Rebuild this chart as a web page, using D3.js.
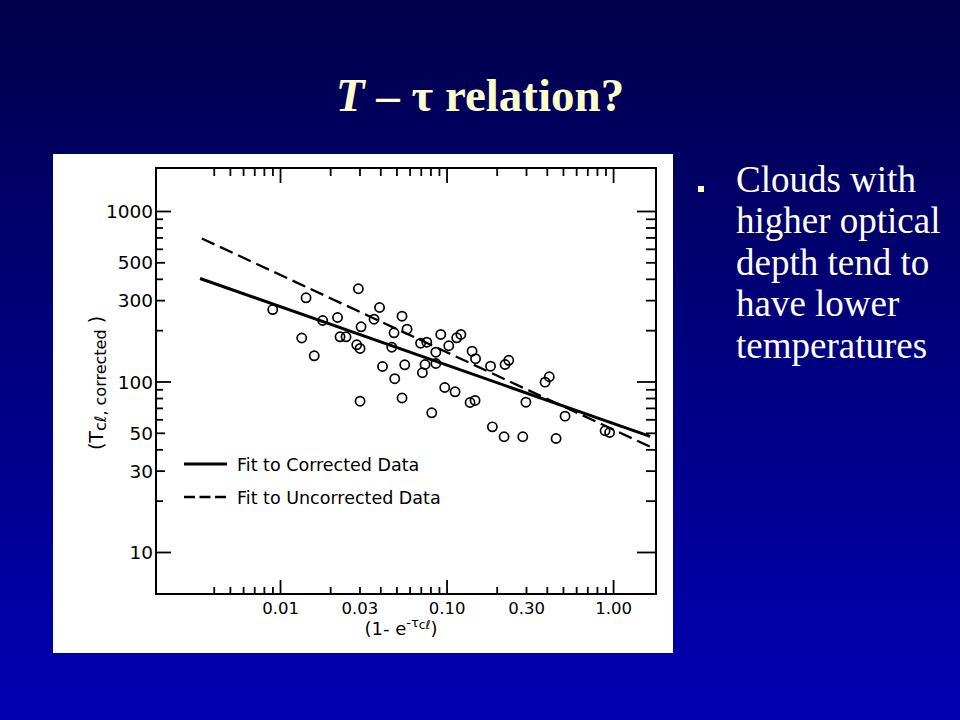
<!DOCTYPE html>
<html><head><meta charset="utf-8">
<script src="https://cdn.jsdelivr.net/npm/d3@7"></script>
<style>html,body{margin:0;padding:0;background:#000060;} svg{display:block}</style>
</head><body>
<svg id="c" width="960" height="720"></svg>
<script>
// ---- data ----
const xValues = [0.00904,0.01433,0.02954,0.01805,0.02215,0.0396,0.03669,0.03066,0.0135,0.02293,
  0.02491,0.02889,0.03024,0.01605,0.04126,0.05403,0.04838,0.05792,0.04687,0.06981,
  0.07605,0.09231,0.08624,0.1031,0.1151,0.1219,0.1423,0.1493,0.1837,0.0561,
  0.07428,0.08624,0.07157,0.04885,0.05403,0.09754,0.1125,0.1384,0.1483,0.08149,
  0.1884,0.03024,0.2246,0.2363,0.3905,0.4138,0.2995,0.5148,0.2215,0.2869,
  0.4546,0.8954,0.9528];
const yValues = [264,309.7,349.8,227.9,237.3,271.6,231.9,209.3,179.9,182.9,
  182.9,164.1,156.2,141.5,122.4,241.5,193.0,202.7,158.9,167.7,
  170.0,188.7,148.5,162.0,180.4,188.7,150.5,136.1,122.9,125.3,
  125.8,127.5,112.5,103.8,80.0,92.2,87.0,75.3,77.4,65.5,
  54.2,76.6,125.8,133.1,99.1,106.6,75.6,62.6,47.4,47.4,
  46.3,51.4,50.2];
const fitCorrectedX = [0.00331, 1.668];
const fitCorrectedY = [402, 47.6];
const fitUncorrectedX = [0.00339, 1.708];
const fitUncorrectedY = [690, 41.0];
const legendLabels = ["Fit to Corrected Data", "Fit to Uncorrected Data"];

const xDomain = [0.0018, 1.81];
const yDomain = [5.67, 1787];
const xTickValues = [0.01, 0.03, 0.1, 0.3, 1];
const xTickLabels = ["0.01", "0.03", "0.10", "0.30", "1.00"];
const xMajorTicks = [0.01, 0.1, 1];
const xMinorTicks = [0.004,0.005,0.006,0.007,0.008,0.009,0.02,0.03,0.04,0.05,0.06,0.07,0.08,0.09,
  0.2,0.3,0.4,0.5,0.6,0.7,0.8,0.9];
const yTickValues = [1000, 500, 300, 100, 50, 30, 10];
const yTickLabels = ["1000", "500", "300", "100", "50", "30", "10"];
const yMajorTicks = [1000, 100, 10];
const yMidTicks = [500, 300, 50, 30];
const yMinorTicks = [20,40,60,70,80,90,200,400,600,700,800,900];

const titleText = ["T", " – τ relation?"];
const bulletLines = ["Clouds with", "higher optical", "depth tend to", "have lower", "temperatures"];

// ---- drawing ----
const svg = d3.select("#c");
const defs = svg.append("defs");
const grad = defs.append("linearGradient").attr("id","bg").attr("x1",0).attr("y1",0).attr("x2",0).attr("y2",1);
grad.append("stop").attr("offset","0%").attr("stop-color","#00004a");
grad.append("stop").attr("offset","100%").attr("stop-color","#0000b4");
svg.append("rect").attr("width",960).attr("height",720).attr("fill","url(#bg)");

// title
const title = svg.append("text").attr("x",480).attr("y",111).attr("text-anchor","middle")
  .attr("font-family","'Liberation Serif','Times New Roman',serif").attr("font-weight","bold")
  .attr("font-size",47).attr("fill","#ffffcc");
title.append("tspan").attr("font-style","italic").text(titleText[0]);
title.append("tspan").text(titleText[1]);

// bullet
svg.append("rect").attr("x",698).attr("y",186).attr("width",6).attr("height",6).attr("fill","#ffffcc");
svg.append("g").selectAll("text").data(bulletLines).join("text")
  .attr("x",736).attr("y",(d,i)=>191.5+i*41.5)
  .attr("font-family","'Liberation Serif','Times New Roman',serif").attr("font-size",37)
  .attr("fill","#ffffff").text(d=>d);

// panel
svg.append("rect").attr("x",53).attr("y",154).attr("width",620).attr("height",499).attr("fill","#ffffff");

const x = d3.scaleLog().domain(xDomain).range([156, 656]);
const y = d3.scaleLog().domain(yDomain).range([594, 168]);
const font = "'DejaVu Sans', sans-serif";

function axisG(axis, tx, ty) {
  const g = svg.append("g").attr("transform",`translate(${tx},${ty})`).call(axis);
  g.select(".domain").remove();
  g.selectAll("line").attr("stroke","#000").attr("stroke-width",1.8);
  return g;
}
// bottom / top ticks
axisG(d3.axisBottom(x).tickValues(xMinorTicks).tickSize(-7).tickFormat(""), 0, 594);
axisG(d3.axisBottom(x).tickValues(xMajorTicks).tickSize(-14).tickFormat(""), 0, 594);
axisG(d3.axisTop(x).tickValues(xMinorTicks).tickSize(-8).tickFormat(""), 0, 168);
axisG(d3.axisTop(x).tickValues(xMajorTicks).tickSize(-15).tickFormat(""), 0, 168);
// left / right ticks
axisG(d3.axisLeft(y).tickValues(yMinorTicks).tickSize(-7).tickFormat(""), 156, 0);
axisG(d3.axisLeft(y).tickValues(yMidTicks).tickSize(-9).tickFormat(""), 156, 0);
axisG(d3.axisLeft(y).tickValues(yMajorTicks).tickSize(-15).tickFormat(""), 156, 0);
axisG(d3.axisRight(y).tickValues(yMinorTicks.concat(yMidTicks)).tickSize(-10).tickFormat(""), 656, 0);
axisG(d3.axisRight(y).tickValues(yMajorTicks).tickSize(-19).tickFormat(""), 656, 0);

// tick labels
const xl = axisG(d3.axisBottom(x).tickValues(xTickValues).tickSize(0).tickFormat((d,i)=>xTickLabels[i]), 0, 594);
xl.selectAll("text").attr("y",20).attr("dy",0).attr("font-family",font).attr("font-size",16.5).attr("fill","#000");
const yl = axisG(d3.axisLeft(y).tickValues(yTickValues).tickSize(0).tickFormat((d,i)=>yTickLabels[i]), 156, 0);
yl.selectAll("text").attr("x",-3).attr("dy","0.36em").attr("font-family",font).attr("font-size",18.5).attr("fill","#000");

// frame
svg.append("rect").attr("x",x(xDomain[0])).attr("y",y(yDomain[1]))
  .attr("width",x(xDomain[1])-x(xDomain[0])).attr("height",y(yDomain[0])-y(yDomain[1]))
  .attr("fill","none").attr("stroke","#000").attr("stroke-width",2);

// fit lines
const line = d3.line().x(d=>x(d[0])).y(d=>y(d[1]));
svg.append("path").datum(fitCorrectedX.map((v,i)=>[v,fitCorrectedY[i]])).attr("d",line)
  .attr("fill","none").attr("stroke","#000").attr("stroke-width",3);
svg.append("path").datum(fitUncorrectedX.map((v,i)=>[v,fitUncorrectedY[i]])).attr("d",line)
  .attr("fill","none").attr("stroke","#000").attr("stroke-width",2.3).attr("stroke-dasharray","14,6");

// points
svg.append("g").selectAll("circle").data(xValues.map((v,i)=>[v,yValues[i]])).join("circle")
  .attr("cx",d=>x(d[0])).attr("cy",d=>y(d[1])).attr("r",4.6)
  .attr("fill","none").attr("stroke","#000").attr("stroke-width",1.7);

// legend
svg.append("line").attr("x1",184).attr("x2",227).attr("y1",464).attr("y2",464).attr("stroke","#000").attr("stroke-width",3);
svg.append("line").attr("x1",184).attr("x2",227).attr("y1",497).attr("y2",497).attr("stroke","#000").attr("stroke-width",2.3).attr("stroke-dasharray","11,4.5");
svg.append("g").selectAll("text").data(legendLabels).join("text")
  .attr("x",237).attr("y",(d,i)=>471+i*33).attr("font-family",font).attr("font-size",17.5)
  .attr("fill","#000").text(d=>d);

// axis titles
const xt = svg.append("text").attr("x",401).attr("y",635).attr("text-anchor","middle")
  .attr("font-family",font).attr("font-size",18).attr("fill","#000");
xt.append("tspan").text("(1- e");
xt.append("tspan").attr("font-size",13).attr("dy",-8).text("-τ");
xt.append("tspan").attr("font-size",12).attr("dy",2).text("cℓ");
xt.append("tspan").attr("font-size",18).attr("dy",6).text(")");

const yt = svg.append("text").attr("transform","translate(103,383) rotate(-90)").attr("text-anchor","middle")
  .attr("font-family",font).attr("font-size",19).attr("fill","#000");
yt.append("tspan").text("(T");
yt.append("tspan").attr("font-size",16).attr("dy",3).text("cℓ, corrected");
yt.append("tspan").attr("font-size",19).attr("dy",-3).text(" )");
</script>
</body></html>
